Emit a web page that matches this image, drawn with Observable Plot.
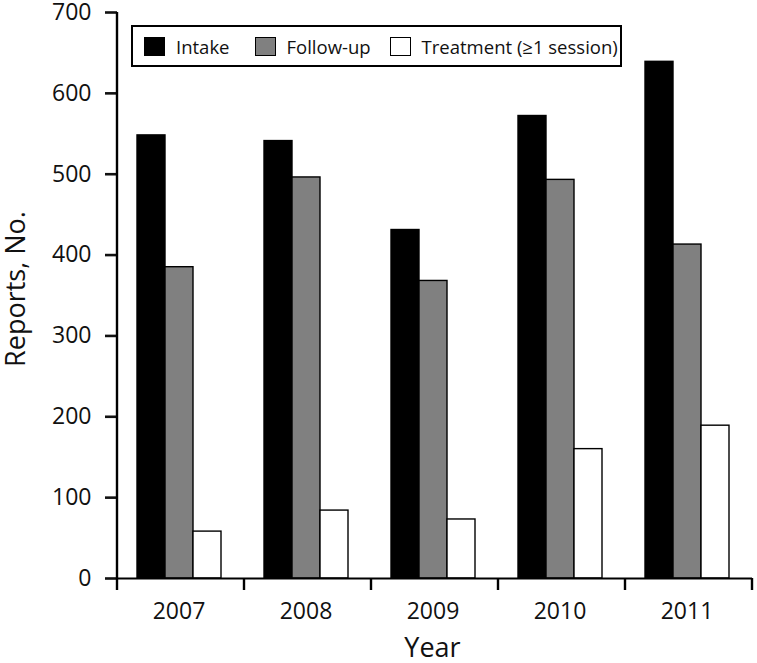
<!DOCTYPE html>
<html>
<head>
<meta charset="utf-8">
<script src="https://cdn.jsdelivr.net/npm/d3@7"></script>
<script src="https://cdn.jsdelivr.net/npm/@observablehq/plot@0.6"></script>
<style>
  html, body { margin: 0; padding: 0; background: #fff; }
  #wrap { position: relative; width: 757px; height: 663px; font-family: "Open Sans", sans-serif; }
  #legend {
    position: absolute; left: 131px; top: 25px; width: 487px; height: 38px;
    border: 2px solid #000; box-sizing: content-box;
    display: flex; align-items: center; font-size: 18.5px; color: #111;
  }
  .item { display: flex; align-items: center; }
  .sw { width: 19px; height: 17px; border: 1.5px solid #000; margin-right: 11px; }
</style>
</head>
<body>
<div id="wrap"></div>
<script>
const years = ["2007", "2008", "2009", "2010", "2011"];
const series = ["Intake", "Follow-up", "Treatment (≥1 session)"];
const intake = [548, 541, 431, 572, 639];
const followUp = [385, 496, 368, 493, 413];
const treatment = [58, 84, 73, 160, 189];
const seriesColors = ["#000000", "#808080", "#ffffff"];
const yTicks = [0, 100, 200, 300, 400, 500, 600, 700];
const yTitle = "Reports, No.";
const xTitle = "Year";

const values = [intake, followUp, treatment];
const data = years.flatMap((yr, i) => series.map((s, j) => ({year: yr, series: s, value: values[j][i]})));

const plot = Plot.plot({
  width: 757,
  height: 663,
  marginLeft: 115,
  marginRight: 4,
  marginTop: 12,
  marginBottom: 85,
  style: {fontFamily: "Open Sans, sans-serif", fontSize: "23px", color: "#111", background: "#fff", overflow: "visible"},
  fx: {domain: years, padding: 0},
  x: {domain: series, paddingInner: 0, paddingOuter: 0.75, align: 0.455, axis: null},
  y: {domain: [0, 700]},
  color: {domain: series, range: seriesColors},
  marks: [
    Plot.barY(data, {fx: "year", x: "series", y: "value", fill: "series", stroke: "#000", strokeWidth: 1.4}),
    Plot.ruleY([0], {stroke: "#000", strokeWidth: 2}),
    Plot.axisY({ticks: yTicks, tickSize: 12, tickPadding: 14, fontSize: 23, strokeWidth: 2.6, label: null}),
    Plot.axisFx({anchor: "bottom", tickSize: 0, tickPadding: 24, fontSize: 23, dx: -2, label: null})
  ]
});

document.getElementById("wrap").appendChild(plot);

// Axis spine, group boundary ticks and axis titles, placed from the plot's scales
const svg = d3.select(plot);
const fx = plot.scale("fx");
const ys = plot.scale("y");
const y0 = ys.apply(0), yTop = ys.apply(700);
const x0 = fx.apply(years[0]);
const xEnd = fx.apply(years[years.length - 1]) + fx.bandwidth;
const bounds = years.map(v => fx.apply(v)).concat([xEnd]);
const g = svg.append("g").attr("stroke", "#000").attr("fill", "none");
g.append("line").attr("x1", x0).attr("x2", x0).attr("y1", yTop).attr("y2", y0 + 1).attr("stroke-width", 2.4);
g.selectAll("line.bt").data(bounds).join("line").attr("class", "bt")
  .attr("x1", d => d).attr("x2", d => d).attr("y1", y0).attr("y2", y0 + 12).attr("stroke-width", 2.4);

svg.append("text")
  .attr("transform", `translate(${x0 - 92},${(y0 + yTop) / 2 - 6}) rotate(-90)`)
  .attr("text-anchor", "middle").attr("font-size", 27).attr("fill", "#111")
  .text(yTitle);
svg.append("text")
  .attr("x", (x0 + xEnd) / 2 - 2).attr("y", y0 + 79)
  .attr("text-anchor", "middle").attr("font-size", 27).attr("fill", "#111")
  .text(xTitle);

// Legend
const legend = d3.select("#wrap").append("div").attr("id", "legend");
const pads = [11, 25, 19];
series.forEach((s, i) => {
  const it = legend.append("div").attr("class", "item").style("margin-left", pads[i] + "px");
  it.append("div").attr("class", "sw").style("background", seriesColors[i]);
  it.append("span").text(s);
});
</script>
</body>
</html>
